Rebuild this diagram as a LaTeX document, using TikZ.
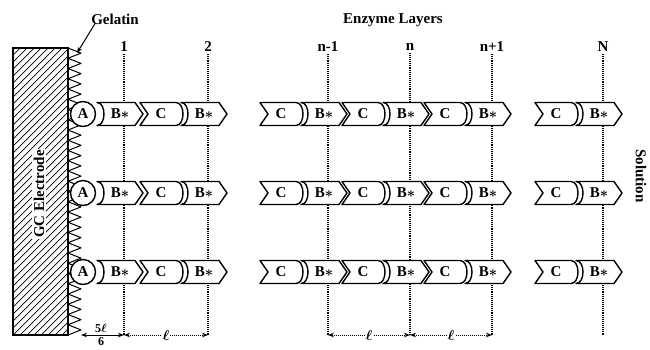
\documentclass[tikz,border=0pt]{standalone}
\usepackage{amsmath}
\usepackage{fontspec}
\setmainfont{Liberation Serif}
\usetikzlibrary{arrows.meta}

\tikzset{
  lbl/.style={font=\fontsize{15}{15}\selectfont\bfseries, inner sep=0pt},
  outline/.style={draw, line width=1.4pt, fill=white, line join=round},
  layerline/.style={densely dotted, line width=1.1pt},
  tip/.style={-{Stealth[length=6pt,width=4.5pt]}},
  dimline/.style={line width=1pt, {Stealth[length=6pt,width=4.5pt]}-{Stealth[length=6pt,width=4.5pt]}},
  % C unit: notched left end, rounded right end
  cpiece/.pic={
    \path[outline] (0,-11.5) -- (8,0) -- (0,11.5) -- (36,11.5)
      .. controls (45.3,11.5) and (45.3,-11.5) .. (36,-11.5) -- cycle;
    \node[lbl] (-t) at (21,0) {C};
  },
  % B* unit: hollow left end, pointed right end
  bpiece/.pic={
    \path[outline] (41,-11.5) -- (79,-11.5) -- (87,0) -- (79,11.5) -- (41,11.5)
      .. controls (50.3,11.5) and (50.3,-11.5) .. (41,-11.5) -- cycle;
    \node[lbl] (-t) at (64,0) {B$\boldsymbol{\ast}$};
  },
}

\begin{document}
\begin{tikzpicture}[x=1pt,y=-1pt]
\useasboundingbox (0,0) rectangle (650,349);

% electrode with hatching
\begin{scope}
  \clip (13,48) rectangle (68,335);
  \foreach \k in {0,7,...,350}
    \draw[line width=0.7pt] (13,48+\k) -- ++(60,-60);
\end{scope}
\node (electrode) [draw, line width=1.3pt, minimum width=55pt, minimum height=287pt,
  inner sep=0pt] at (40.5,191.5) {};
\node[lbl, rotate=90, fill=white, inner sep=1.5pt] (gc) at (39,194) {GC Electrode};

% gelatin layer
\draw[line width=1pt, line join=round] (68,48)
  \foreach \k in {0,...,27} { -- ({81},{53.125+10.25*\k}) -- ({68},{58.25+10.25*\k}) };

\node[lbl] (gelatin) at (115,19) {Gelatin};
\coordinate (geltip) at (77,53);
\draw[tip, line width=1pt] ([xshift=4pt,yshift=1pt]gelatin.south west) -- (geltip);

\node[lbl] (title) at (393,20) {Enzyme Layers};
\node[lbl, rotate=-90] (solution) at (641,176) {Solution};

% layer positions
\foreach \name/\x/\txt in {l1/124/1, l2/208/2, lnm/328/n-1, ln/410/n, lnp/492/n+1, lN/603/N} {
  \node[lbl] (\name) at (\x,47) {\txt};
  \coordinate (\name b) at (\x,335);
  \draw[layerline] ([yshift=-2pt]\name.south) -- (\name b);
}

% enzyme rows
\foreach \r/\y in {1/114, 2/193, 3/272} {
  \node[outline, circle, minimum size=25pt, inner sep=0pt,
        font=\fontsize{15}{15}\selectfont\bfseries] (a\r) at (83,\y) {A};
  \pic (b0r\r) at (56,\y) {bpiece};
  \foreach \x [count=\i] in {140, 260, 342, 424, 535} {
    \pic (c\i r\r) at (\x,\y) {cpiece};
    \pic (b\i r\r) at (\x,\y) {bpiece};
  }
}

% spacing marks
\coordinate (zig) at (81,335);
\draw[dimline] (zig) -- (l1b);
\node[lbl, font=\fontsize{12}{12}\selectfont\bfseries, anchor=south] (five) at (101,333) {5$\boldsymbol{\ell}$};
\node[lbl, font=\fontsize{12}{12}\selectfont\bfseries, anchor=north] (six) at (101,337.5) {6};
\foreach \p/\q in {l1b/l2b, lnmb/lnb, lnb/lnpb} {
  \draw[dimline, densely dotted] (\p) -- node[lbl, fill=white, inner sep=1pt] {$\boldsymbol{\ell}$} (\q);
}
\end{tikzpicture}
\end{document}
